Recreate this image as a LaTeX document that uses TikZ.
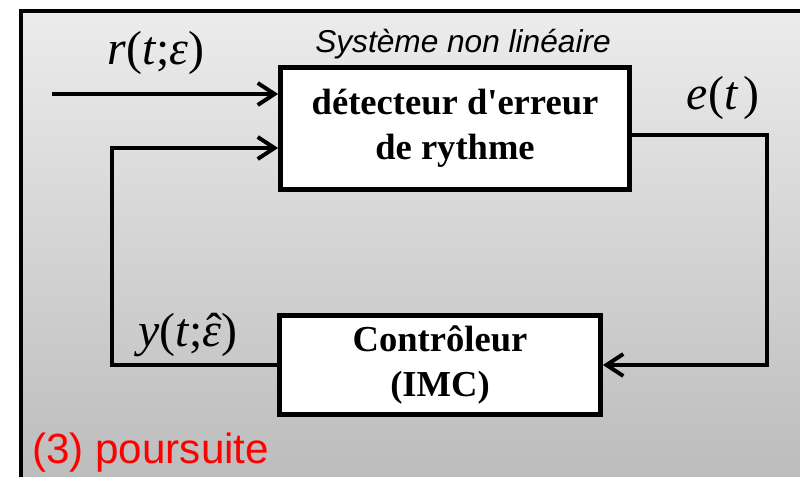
\documentclass[tikz,border=0pt]{standalone}
\usepackage{fontspec}
\setmainfont{Liberation Serif}
\setsansfont{Liberation Sans}
\usetikzlibrary{arrows.meta}
\newcommand{\epschap}{\ooalign{\textit{ε}\cr\hidewidth\kern0.08em ˆ\hidewidth}}
\tikzset{
  bloc/.style={draw,line width=3.5pt,fill=white,align=center,inner sep=0pt,
    font=\bfseries\fontsize{26}{32}\selectfont},
  fil/.style={line width=2.8pt},
  fleche/.style={fil,-{Straight Barb[length=4.2mm,width=5.5mm]}},
  signal/.style={anchor=base,inner sep=0pt,font=\fontsize{34}{40}\selectfont}
}
\begin{document}
\begin{tikzpicture}[x=0.025cm,y=-0.025cm]
\useasboundingbox (0,0) rectangle (800,477);
\shade[top color=gray!15,bottom color=gray!52] (21,11) rectangle (800,477);
\draw[fil] (21,477)--(21,11)--(800,11);
\node[bloc,minimum width=8.72cm,minimum height=3.05cm] (det) at (455,128.5) {détecteur d\textquotesingle erreur\\de rythme};
\node[bloc,minimum width=8.02cm,minimum height=2.48cm] (ctrl) at (440,365) {Contrôleur\\(IMC)};
\node[anchor=base,inner sep=0pt,font=\sffamily\itshape\fontsize{22.5}{27}\selectfont] (titre) at (463,53) {Système non linéaire};
\coordinate (rin) at (52,94);
\coordinate (fb) at (112,148);
\coordinate (ecoin) at (767,135);
\draw[fleche](rin)--(rin-|det.west);
\draw[fleche](ctrl.west)-|(fb)--(fb-|det.west);
\draw[fleche](det.east|-ecoin)--(ecoin)|-(ctrl.east);
\node[signal] (r) at (156,65) {\textit{r}(\textit{t};\textit{ε})};
\node[signal] (e) at (723,110) {\textit{e}(\textit{t}\kern0.1em)};
\node[signal] (y) at (188,347) {\textit{y}(\textit{t};\epschap)};
\node[anchor=base west,inner sep=0pt,text=red,font=\sffamily\fontsize{30}{36}\selectfont] (mode) at (32,463) {(3) poursuite};
\end{tikzpicture}
\end{document}
